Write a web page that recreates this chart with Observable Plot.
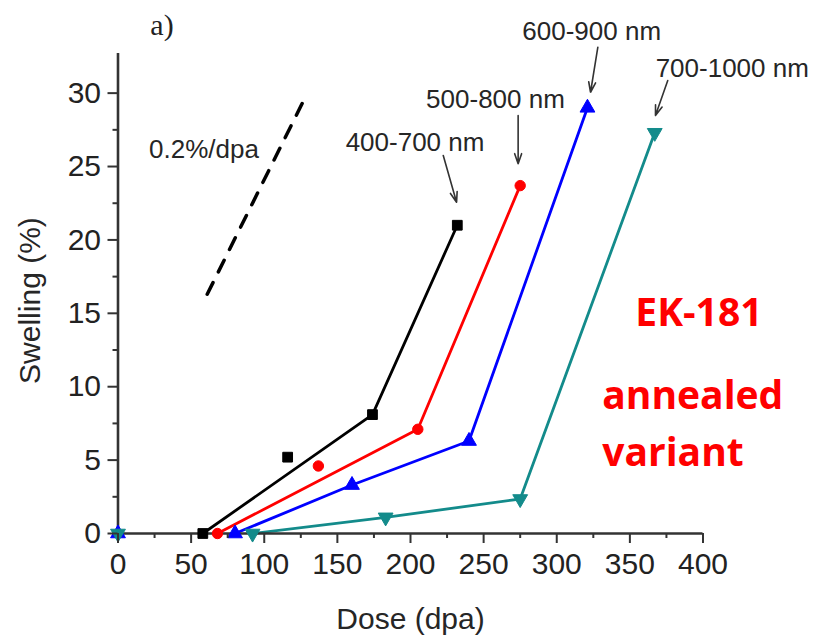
<!DOCTYPE html>
<html><head><meta charset="utf-8">
<script src="https://cdn.jsdelivr.net/npm/d3@7"></script>
<script src="https://cdn.jsdelivr.net/npm/@observablehq/plot@0.6"></script>
<style>body{margin:0;background:#fff}</style>
</head><body><div id="chart"></div>
<script>
// ---- Data ----
const dose400 = [58, 116, 174, 232];
const swell400 = [0, 5.2, 8.1, 21.0];
const fitDose400 = [58, 174, 232];
const fitSwell400 = [0, 8.1, 21.0];

const dose500 = [68, 137, 205, 275];
const swell500 = [0, 4.6, 7.1, 23.7];
const fitDose500 = [68, 205, 275];
const fitSwell500 = [0, 7.1, 23.7];

const dose600 = [0, 80, 160, 240, 321];
const swell600 = [0, 0, 3.3, 6.3, 29.0];
const fitDose600 = [80, 160, 240, 321];
const fitSwell600 = [0, 3.3, 6.3, 29.0];

const dose700 = [0, 92, 183, 275, 367];
const swell700 = [0, 0, 1.1, 2.35, 27.3];
const fitDose700 = [92, 183, 275, 367];
const fitSwell700 = [0, 1.1, 2.35, 27.3];

const slopeDose = [61, 128.2];
const slopeSwell = [16.3, 29.75];

const xTicks = [0, 50, 100, 150, 200, 250, 300, 350, 400];
const xMinor = [25, 75, 125, 175, 225, 275, 325, 375];
const yTicks = [0, 5, 10, 15, 20, 25, 30];
const yMinor = [2.5, 7.5, 12.5, 17.5, 22.5, 27.5];

// annotations (data coordinates)
const noteText = ["0.2%/dpa", "400-700 nm", "500-800 nm", "600-900 nm", "700-1000 nm"];
const noteDose = [58.8, 203.1, 258.1, 323.9, 420];
const noteSwell = [25.58, 26.09, 29.0, 33.59, 31.13];
const arrowDose1 = [222.4, 273.6, 328.1, 375.9];
const arrowSwell1 = [25.75, 28.48, 33.13, 30.86];
const arrowDose2 = [231.5, 273.6, 323.1, 367.5];
const arrowSwell2 = [22.57, 25.19, 30.06, 28.48];

const zip = (xs, ys) => xs.map((x, i) => ({x, y: ys[i]}));

const triangleDown = {
  draw(ctx, size) {
    const y = -Math.sqrt(size / (Math.sqrt(3) * 3));
    ctx.moveTo(0, -y * 2);
    ctx.lineTo(-Math.sqrt(3) * y, y);
    ctx.lineTo(Math.sqrt(3) * y, y);
    ctx.closePath();
  }
};

const teal = "#138b8b";
const series = [
  {pts: zip(dose400, swell400), fit: zip(fitDose400, fitSwell400), color: "#000000", symbol: "square", r: 5.5},
  {pts: zip(dose500, swell500), fit: zip(fitDose500, fitSwell500), color: "#ff0000", symbol: "circle", r: 5.2},
  {pts: zip(dose600, swell600), fit: zip(fitDose600, fitSwell600), color: "#0000ff", symbol: "triangle", r: 5.5},
  {pts: zip(dose700, swell700), fit: zip(fitDose700, fitSwell700), color: teal, symbol: triangleDown, r: 5.5}
];

const notes = noteText.map((t, i) => ({t, x: noteDose[i], y: noteSwell[i]}));
const arrows = arrowDose1.map((d, i) => ({x1: d, y1: arrowSwell1[i], x2: arrowDose2[i], y2: arrowSwell2[i]}));

const marks = [];
// guide slope
marks.push(Plot.line(zip(slopeDose, slopeSwell), {x: "x", y: "y", stroke: "#000", strokeWidth: 3.5, strokeDasharray: "13,12"}));
for (const s of series) {
  marks.push(Plot.line(s.fit, {x: "x", y: "y", stroke: s.color, strokeWidth: 2.8}));
}
// axes lines
marks.push(Plot.ruleY([0], {stroke: "#333", strokeWidth: 2.6}));
marks.push(Plot.ruleX([0], {stroke: "#333", strokeWidth: 2.6}));
for (const s of series) {
  marks.push(Plot.dot(s.pts, {x: "x", y: "y", fill: s.color, stroke: s.color, strokeWidth: 1, symbol: s.symbol, r: s.r}));
}
// ticks
marks.push(Plot.axisX(xTicks, {tickSize: 10, tickPadding: 9, fontSize: 30, stroke: "#333", strokeWidth: 2, fill: "#222", label: null, tickFormat: d => String(d)}));
marks.push(Plot.axisX(xMinor, {tickSize: 5, stroke: "#333", strokeWidth: 2, label: null, tickFormat: () => ""}));
marks.push(Plot.axisY(yTicks, {tickSize: 10, tickPadding: 7, fontSize: 30, stroke: "#333", strokeWidth: 2, fill: "#222", label: null, tickFormat: d => String(d)}));
marks.push(Plot.axisY(yMinor, {tickSize: 5, stroke: "#333", strokeWidth: 2, label: null, tickFormat: () => ""}));
// annotation text & arrows
marks.push(Plot.text(notes, {x: "x", y: "y", text: "t", fontSize: 26, fill: "#262626", lineAnchor: "bottom", textAnchor: "middle"}));
marks.push(Plot.arrow(arrows, {x1: "x1", y1: "y1", x2: "x2", y2: "y2", stroke: "#333", strokeWidth: 1.6, headLength: 10, headAngle: 38}));
// panel label
marks.push(Plot.text(["a)"], {x: 30.1, y: 33.93, fontSize: 30, fontFamily: "Liberation Serif, Times New Roman, serif", fill: "#222", lineAnchor: "bottom"}));
// axis titles
marks.push(Plot.text(["Dose (dpa)"], {x: 200, y: -6.5, fontSize: 30, fill: "#262626", lineAnchor: "bottom"}));
marks.push(Plot.text(["Swelling (%)"], {x: -60.2, y: 15.87, fontSize: 30, fill: "#262626", rotate: -90, lineAnchor: "middle"}));
// red labels
marks.push(Plot.text(["EK-181"], {x: 397.2, y: 14.17, fontSize: 39, fontWeight: "bold", fontFamily: "Open Sans, sans-serif", fill: "#ff0000", lineAnchor: "bottom"}));
marks.push(Plot.text(["annealed"], {x: 331.1, y: 8.50, fontSize: 39, fontWeight: "bold", fontFamily: "Open Sans, sans-serif", fill: "#ff0000", lineAnchor: "bottom", textAnchor: "start"}));
marks.push(Plot.text(["variant"], {x: 331.1, y: 4.63, fontSize: 39, fontWeight: "bold", fontFamily: "Open Sans, sans-serif", fill: "#ff0000", lineAnchor: "bottom", textAnchor: "start"}));

const chart = Plot.plot({
  width: 817,
  height: 637,
  marginLeft: 117.5,
  marginRight: 114.5,
  marginTop: 53,
  marginBottom: 104,
  x: {domain: [0, 400], axis: null},
  y: {domain: [0, 32.7], axis: null},
  style: {fontFamily: "Liberation Sans, Arial, sans-serif", background: "#fff", overflow: "visible"},
  marks
});
document.getElementById("chart").appendChild(chart);
</script>
</body></html>
